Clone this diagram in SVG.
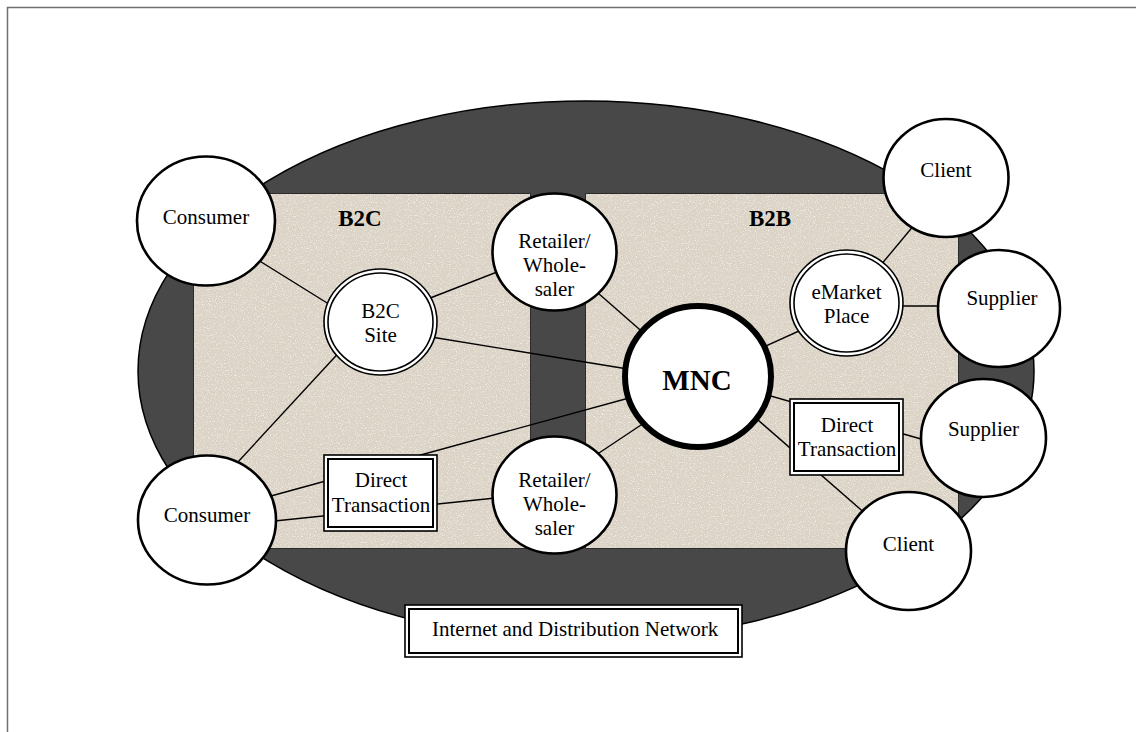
<svg xmlns="http://www.w3.org/2000/svg" width="1136" height="732" viewBox="0 0 1136 732">
  <style>
    .lbl { font-family: "Liberation Serif", "Times New Roman", serif; font-size: 21px; fill: #000; text-anchor: middle; }
    .hdr { font-family: "Liberation Serif", "Times New Roman", serif; font-size: 23px; font-weight: bold; fill: #000; text-anchor: middle; }
    .node { fill: #fff; stroke: #000; stroke-width: 2.6; }
    .thin { fill: #fff; stroke: #000; stroke-width: 1.6; }
    .inner { fill: none; stroke: #000; stroke-width: 1.6; }
    .box-in { fill: none; stroke: #000; stroke-width: 2; }
    .zone { fill: #ddd4c8; stroke: #1a1a1a; stroke-width: 1.2; }
    #connectors line { stroke: #000; stroke-width: 1.4; }
  </style>
  <defs>
    <!-- paper-like speckle for the market zones -->
    <filter id="grain" x="0" y="0" width="100%" height="100%">
      <feTurbulence type="fractalNoise" baseFrequency="0.85" numOctaves="2" seed="7" result="n"/>
      <feColorMatrix in="n" type="matrix" values="0 0 0 0 0.66  0 0 0 0 0.60  0 0 0 0 0.52  3.2 0 0 0 -1.75" result="dark"/>
      <feColorMatrix in="n" type="matrix" values="0 0 0 0 0.95  0 0 0 0 0.93  0 0 0 0 0.90  -3 0 0 0 1.35" result="light"/>
      <feMerge result="m"><feMergeNode in="SourceGraphic"/><feMergeNode in="dark"/><feMergeNode in="light"/></feMerge>
      <feComposite in="m" in2="SourceGraphic" operator="in"/>
    </filter>
  </defs>

  <rect width="1136" height="732" fill="#fff"/>
  <!-- page frame -->
  <path d="M7.5 732 V7.5 H1136" fill="none" stroke="#6f6f6f" stroke-width="1.5"/>

  <!-- network backdrop -->
  <g id="network">
    <ellipse cx="586" cy="371" rx="448" ry="270" fill="#484848" stroke="#000" stroke-width="1.5"/>
  </g>

  <g id="zone-b2c">
    <rect class="zone" x="194" y="194" width="336" height="354"/>
    <rect x="194" y="194" width="336" height="354" fill="#ddd4c8" filter="url(#grain)"/>
    <text class="hdr" x="360" y="226">B2C</text>
  </g>
  <g id="zone-b2b">
    <rect class="zone" x="586" y="194" width="372" height="354"/>
    <rect x="586" y="194" width="372" height="354" fill="#ddd4c8" filter="url(#grain)"/>
    <text class="hdr" x="770" y="226">B2B</text>
  </g>

  <g id="connectors">
    <line x1="250" y1="255" x2="340" y2="311"/>
    <line x1="420" y1="302" x2="510" y2="267"/>
    <line x1="425" y1="336" x2="640" y2="371"/>
    <line x1="345" y1="346" x2="225" y2="476"/>
    <line x1="590" y1="286" x2="655" y2="343"/>
    <line x1="755" y1="351" x2="810" y2="326"/>
    <line x1="875" y1="272" x2="920" y2="218"/>
    <line x1="895" y1="306" x2="950" y2="306"/>
    <line x1="640" y1="395" x2="260" y2="499"/>
    <line x1="265" y1="522" x2="505" y2="497"/>
    <line x1="590" y1="459" x2="650" y2="419"/>
    <line x1="760" y1="393" x2="935" y2="443"/>
    <line x1="750" y1="413" x2="875" y2="522"/>
  </g>

  <g id="consumer-top">
    <ellipse class="node" cx="206" cy="221" rx="69" ry="64.5"/>
    <text class="lbl" x="206" y="224">Consumer</text>
  </g>
  <g id="consumer-bottom">
    <ellipse class="node" cx="207" cy="520" rx="69" ry="64.5"/>
    <text class="lbl" x="207" y="522">Consumer</text>
  </g>
  <g id="b2c-site">
    <ellipse class="thin" cx="380.5" cy="322" rx="56.5" ry="53"/>
    <ellipse class="inner" cx="380.5" cy="322" rx="52.5" ry="49"/>
    <text class="lbl" x="380.5" y="318">B2C</text>
    <text class="lbl" x="380.5" y="342">Site</text>
  </g>
  <g id="retailer-top">
    <ellipse class="node" cx="554.5" cy="252" rx="62" ry="58.5"/>
    <text class="lbl" x="554.5" y="248">Retailer/</text>
    <text class="lbl" x="554.5" y="272">Whole-</text>
    <text class="lbl" x="554.5" y="296">saler</text>
  </g>
  <g id="retailer-bottom">
    <ellipse class="node" cx="554.5" cy="495" rx="62" ry="58.5"/>
    <text class="lbl" x="554.5" y="487">Retailer/</text>
    <text class="lbl" x="554.5" y="511">Whole-</text>
    <text class="lbl" x="554.5" y="535">saler</text>
  </g>
  <g id="mnc">
    <ellipse cx="698" cy="376.5" rx="73" ry="70.5" fill="#fff" stroke="#000" stroke-width="6"/>
    <text class="hdr" x="697" y="390" style="font-size:29px">MNC</text>
  </g>
  <g id="emarket">
    <ellipse class="thin" cx="846.5" cy="303" rx="56.5" ry="53"/>
    <ellipse class="inner" cx="846.5" cy="303" rx="52.5" ry="49"/>
    <text class="lbl" x="846.5" y="299">eMarket</text>
    <text class="lbl" x="846.5" y="323">Place</text>
  </g>
  <g id="client-top">
    <ellipse class="node" cx="946" cy="178" rx="62.5" ry="59"/>
    <text class="lbl" x="946" y="177">Client</text>
  </g>
  <g id="supplier-top">
    <ellipse class="node" cx="999" cy="308.5" rx="61" ry="58.5"/>
    <text class="lbl" x="1002" y="305">Supplier</text>
  </g>
  <g id="supplier-bottom">
    <ellipse class="node" cx="983.5" cy="438" rx="62.5" ry="59"/>
    <text class="lbl" x="983.5" y="436">Supplier</text>
  </g>
  <g id="client-bottom">
    <ellipse class="node" cx="908.5" cy="551" rx="62.5" ry="59"/>
    <text class="lbl" x="908.5" y="551">Client</text>
  </g>
  <g id="direct-b2c">
    <rect class="thin" x="324" y="455" width="113" height="76"/>
    <rect class="box-in" x="328" y="459" width="105" height="68"/>
    <text class="lbl" x="381" y="487">Direct</text>
    <text class="lbl" x="381" y="512">Transaction</text>
  </g>
  <g id="direct-b2b">
    <rect class="thin" x="790" y="399" width="113" height="76"/>
    <rect class="box-in" x="794" y="403" width="105" height="68"/>
    <text class="lbl" x="847" y="432">Direct</text>
    <text class="lbl" x="847" y="456">Transaction</text>
  </g>
  <g id="network-label">
    <rect class="thin" x="405" y="605" width="337" height="52"/>
    <rect class="box-in" x="409" y="609" width="329" height="44"/>
    <text class="lbl" x="432" y="636" style="text-anchor:start">Internet and Distribution Network</text>
  </g>
</svg>
